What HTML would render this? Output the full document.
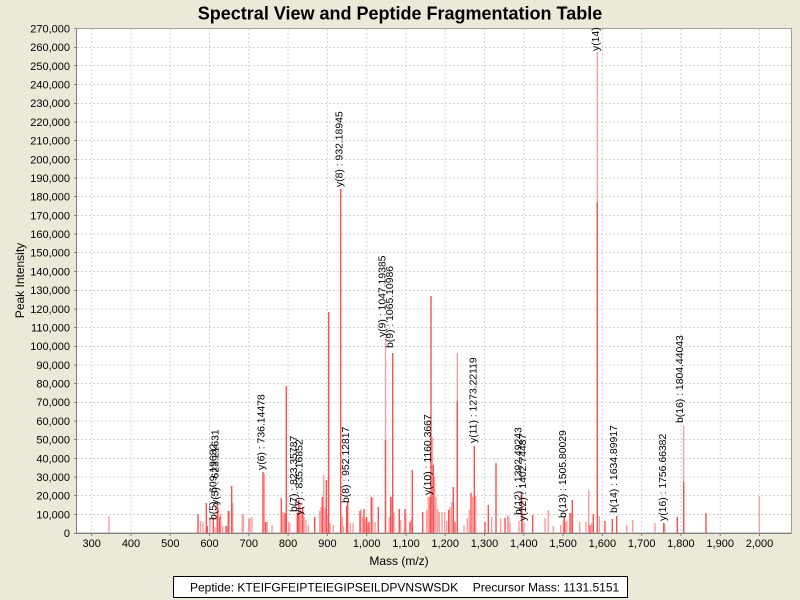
<!DOCTYPE html>
<html>
<head>
<meta charset="utf-8">
<style>
html,body{margin:0;padding:0;background:#ECE9D8;}
svg{display:block;}
text{font-family:"Liberation Sans",Arial,sans-serif;}
</style>
</head>
<body>
<svg width="800" height="600" viewBox="0 0 800 600" xmlns="http://www.w3.org/2000/svg">
<rect x="0" y="0" width="800" height="600" fill="#ECE9D8"/>
<text x="400" y="19.5" font-size="18" font-weight="bold" text-anchor="middle" fill="#000">Spectral View and Peptide Fragmentation Table</text>

<!-- plot area -->
<rect x="76.5" y="28.5" width="715" height="504.5" fill="#fff" stroke="#a0a0a0" stroke-width="1"/>

<!-- grid -->
<g stroke="#d4d4d4" stroke-width="1" stroke-dasharray="2,2" fill="none">
<path d="M91.7 29V533M131 29V533M170.3 29V533M209.5 29V533M248.8 29V533M288.1 29V533M327.4 29V533M366.7 29V533M406 29V533M445.2 29V533M484.5 29V533M523.8 29V533M563.1 29V533M602.4 29V533M641.7 29V533M680.9 29V533M720.2 29V533M759.5 29V533"/>
<path d="M77 514.5H791M77 495.5H791M77 477H791M77 458.5H791M77 439.5H791M77 421H791M77 402.5H791M77 383.5H791M77 365H791M77 346.5H791M77 327.5H791M77 309H791M77 290.5H791M77 271.5H791M77 252.5H791M77 234H791M77 215.5H791M77 196.5H791M77 178H791M77 159.5H791M77 140.5H791M77 122H791M77 103.5H791M77 84.5H791M77 65.5H791M77 47.5H791"/>
</g>

<!-- bars light -->
<path fill="none" stroke="#ff9e9e" stroke-width="1.4" d="M109 533V516M200.5 533V521M203 533V522M210 533V519M215 533V527M218.7 533V508M220.7 533V514M222.7 533V526M227 533V526M229.3 533V511M232.7 533V503M242.3 533V514M243.3 533V514M248.7 533V519M250 533V518M252 533V517M264.3 533V474M267.3 533V522M272 533V525M282.7 533V512M284 533V513M288.7 533V522M289.7 533V523M300 533V502M301.3 533V512M304 533V517M306 533V520M308.3 533V525M319.7 533V511M321 533V507M323.7 533V475M325 533V508M327.7 533V515M330 533V523M333.3 533V525M342.3 533V517M343.3 533V526M350.3 533V523M353 533V523M361 533V509M362.7 533V517M365.3 533V519M367.7 533V523M372.7 533V498M375 533V522M385.5 533V337M389.3 533V517M392 533V497M394 533V513M400.7 533V520M406 533V513M411.3 533V519M426.7 533V510M428.3 533V497M432.3 533V437M434.7 533V477M436 533V497M437.7 533V509M439.3 533V512M442 533V512M444.7 533V512M446.7 533V521M450 533V507M451.7 533V502M457.3 533V353M464 533V525M467.3 533V518M469.3 533V510M472.7 533V497M475.7 533V496M491.7 533V517M500.7 533V518M507.7 533V515M509 533V517M510 533V523M519 533V521M522.7 533V513M524 533V523M545 533V518M548.3 533V510M553.3 533V526M563.3 533V520M560.7 533V525M565.3 533V522M566.7 533V521M571.3 533V513M579.7 533V522M586 533V522M588.7 533V490M591.7 533V523M597.3 533V52M599.3 533V516M626.7 533V525M632.7 533V520M655 533V523M664.7 533V524M683.7 533V426M759.3 533V496"/>
<!-- bars strong -->
<path fill="none" stroke="#ff5050" stroke-width="1.4" d="M198 533V514M206.3 533V503M207.3 533V526M213.3 533V517M217.3 533V504M219.7 533V517M226 533V526M228.3 533V511M231.7 533V486M263 533V472M265.7 533V522M281.3 533V498M285.3 533V513M286.3 533V386M297.3 533V513M298.7 533V500M302.7 533V507M314.7 533V517M322.3 533V497M326.3 533V480M328.7 533V312M340.7 533V189M346.7 533V506M347.7 533V502M360 533V511M364 533V509M366.7 533V517M369 533V522M371.3 533V497M378.3 533V507M385.5 533V440M390.7 533V497M392.7 533V353M399.3 533V509M405 533V509M410 533V522M412.3 533V470M422.7 533V512M430 533V497M431 533V296M433.3 533V465M448.7 533V510M453.3 533V487M455 533V522M457.3 533V401M471 533V493M474.3 533V446M485 533V522M488.3 533V505M496 533V463M505 533V518M521.7 533V493M532.7 533V515M564.3 533V517M570 533V513M572.3 533V500M590 533V525M593.3 533V514M597.3 533V202M605 533V521M612.3 533V519M616.7 533V516M663.7 533V523M677.3 533V517M683.7 533V482M706 533V513"/>

<!-- peak labels -->
<g font-size="10.4" fill="#000">
<text transform="translate(599,51) rotate(-90)">y(14)</text>
<text transform="translate(342.5,187) rotate(-90)">y(8) : 932.18945</text>
<text transform="translate(385.5,337) rotate(-90)">y(9) : 1047.19385</text>
<text transform="translate(393,348) rotate(-90)">b(9) : 1065.10986</text>
<text transform="translate(264.5,470) rotate(-90)">y(6) : 736.14478</text>
<text transform="translate(216.5,520) rotate(-90)">b(5) : 609.19632</text>
<text transform="translate(218.5,505) rotate(-90)">y(5) : 623.21631</text>
<text transform="translate(297,512) rotate(-90)">b(7) : 823.35787</text>
<text transform="translate(302.5,515) rotate(-90)">y(7) : 835.16852</text>
<text transform="translate(349,503) rotate(-90)">b(8) : 952.12817</text>
<text transform="translate(431,495) rotate(-90)">y(10) : 1160.3667</text>
<text transform="translate(476.5,443) rotate(-90)">y(11) : 1273.22119</text>
<text transform="translate(521.5,515) rotate(-90)">b(12) : 1392.49243</text>
<text transform="translate(526,521) rotate(-90)">y(12) : 1402.74487</text>
<text transform="translate(566,518) rotate(-90)">b(13) : 1505.80029</text>
<text transform="translate(617,513) rotate(-90)">b(14) : 1634.89917</text>
<text transform="translate(666,521) rotate(-90)">y(16) : 1756.66382</text>
<text transform="translate(683,423) rotate(-90)">b(16) : 1804.44043</text>
</g>

<!-- axes -->
<path d="M76.5 28.5V533.5H791.5" fill="none" stroke="#808080" stroke-width="1"/>
<g stroke="#808080" stroke-width="1">
<path d="M74 533.5H76M74 514.5H76M74 495.5H76M74 477H76M74 458.5H76M74 439.5H76M74 421H76M74 402.5H76M74 383.5H76M74 365H76M74 346.5H76M74 327.5H76M74 309H76M74 290.5H76M74 271.5H76M74 252.5H76M74 234H76M74 215.5H76M74 196.5H76M74 178H76M74 159.5H76M74 140.5H76M74 122H76M74 103.5H76M74 84.5H76M74 65.5H76M74 47.5H76M74 28.5H76"/>
<path d="M91.7 534V536M131 534V536M170.3 534V536M209.5 534V536M248.8 534V536M288.1 534V536M327.4 534V536M366.7 534V536M406 534V536M445.2 534V536M484.5 534V536M523.8 534V536M563.1 534V536M602.4 534V536M641.7 534V536M680.9 534V536M720.2 534V536M759.5 534V536"/>
</g>

<!-- y labels -->
<g font-size="11" fill="#000" text-anchor="end">
<text x="70" y="537">0</text>
<text x="70" y="518.3">10,000</text>
<text x="70" y="499.6">20,000</text>
<text x="70" y="480.9">30,000</text>
<text x="70" y="462.3">40,000</text>
<text x="70" y="443.6">50,000</text>
<text x="70" y="424.9">60,000</text>
<text x="70" y="406.2">70,000</text>
<text x="70" y="387.5">80,000</text>
<text x="70" y="368.8">90,000</text>
<text x="70" y="350.2">100,000</text>
<text x="70" y="331.5">110,000</text>
<text x="70" y="312.8">120,000</text>
<text x="70" y="294.1">130,000</text>
<text x="70" y="275.4">140,000</text>
<text x="70" y="256.7">150,000</text>
<text x="70" y="238">160,000</text>
<text x="70" y="219.4">170,000</text>
<text x="70" y="200.7">180,000</text>
<text x="70" y="182">190,000</text>
<text x="70" y="163.3">200,000</text>
<text x="70" y="144.6">210,000</text>
<text x="70" y="125.9">220,000</text>
<text x="70" y="107.2">230,000</text>
<text x="70" y="88.6">240,000</text>
<text x="70" y="69.9">250,000</text>
<text x="70" y="51.2">260,000</text>
<text x="70" y="32.5">270,000</text>
</g>

<!-- x labels -->
<g font-size="11" fill="#000" text-anchor="middle">
<text x="91.7" y="547">300</text>
<text x="131" y="547">400</text>
<text x="170.3" y="547">500</text>
<text x="209.5" y="547">600</text>
<text x="248.8" y="547">700</text>
<text x="288.1" y="547">800</text>
<text x="327.4" y="547">900</text>
<text x="366.7" y="547">1,000</text>
<text x="406" y="547">1,100</text>
<text x="445.2" y="547">1,200</text>
<text x="484.5" y="547">1,300</text>
<text x="523.8" y="547">1,400</text>
<text x="563.1" y="547">1,500</text>
<text x="602.4" y="547">1,600</text>
<text x="641.7" y="547">1,700</text>
<text x="680.9" y="547">1,800</text>
<text x="720.2" y="547">1,900</text>
<text x="759.5" y="547">2,000</text>
</g>

<text x="399" y="565" font-size="12" text-anchor="middle" fill="#000">Mass (m/z)</text>
<text transform="translate(24,280.5) rotate(-90)" font-size="12" text-anchor="middle" fill="#000">Peak Intensity</text>

<!-- legend -->
<rect x="173.5" y="576.5" width="454" height="21" fill="#fff" stroke="#000" stroke-width="1"/>
<text x="190" y="591.5" font-size="12" fill="#000">Peptide: KTEIFGFEIPTEIEGIPSEILDPVNSWSDK</text>
<text x="472.7" y="591.5" font-size="12" fill="#000">Precursor Mass: 1131.5151</text>
</svg>
</body>
</html>
